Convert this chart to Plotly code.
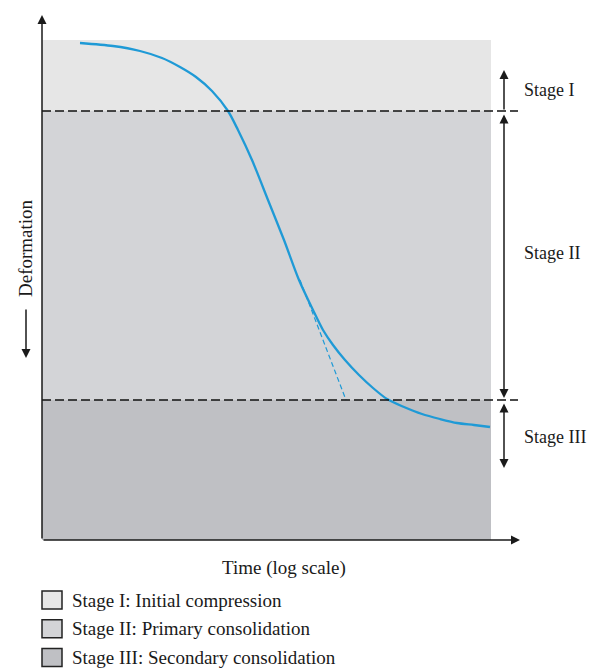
import plotly.graph_objects as go

# consolidation curve (x: log time units, y: deformation units, down = more)
log_time = [38, 71, 98, 120, 138, 154, 170, 186, 196, 210, 226, 242, 257, 271,
            281, 291, 303, 317, 331, 345, 362, 380, 398, 415, 432, 448]
deformation = [3, 6, 11, 18, 27, 37, 51, 71, 90, 120, 160, 200, 240, 270,
               290, 305, 320, 335, 348, 359, 367, 374, 379, 383, 385, 387]

# tangent at the inflection point
tangent_time = [258, 304]
tangent_def = [240, 360]

# stage limits on the deformation axis
stage_edges = [0, 71, 360, 500]
stage_names = ["Stage I", "Stage II", "Stage III"]
stage_fill = ["#e6e6e6", "#d3d4d7", "#bfc0c4"]
legend_text = ["Stage I: Initial compression",
               "Stage II: Primary consolidation",
               "Stage III: Secondary consolidation"]

time_end = 449
serif = "Liberation Serif"
ink = "#1a1a1a"
blue = "#1f9ad6"

fig = go.Figure()

fig.add_trace(go.Scatter(x=log_time, y=deformation, mode="lines",
                         line=dict(color=blue, width=2.3, shape="spline", smoothing=0.8),
                         hoverinfo="skip", showlegend=False))
fig.add_trace(go.Scatter(x=tangent_time, y=tangent_def, mode="lines",
                         line=dict(color=blue, width=1.2, dash="5px,3px"),
                         hoverinfo="skip", showlegend=False))

# stage bands
for i in range(3):
    fig.add_shape(type="rect", x0=0, x1=time_end, y0=stage_edges[i], y1=stage_edges[i + 1],
                  fillcolor=stage_fill[i], line_width=0, layer="below")

# dashed stage boundaries
for edge in stage_edges[1:3]:
    fig.add_shape(type="line", x0=0, x1=476, y0=edge, y1=edge,
                  line=dict(color="#111111", width=1.5, dash="9px,4px"))

def arrow(x0, y0, x1, y1, both=False, w=1.5):
    fig.add_annotation(x=x1, y=y1, ax=x0, ay=y0, xref="x", yref="y", axref="x", ayref="y",
                       text="", showarrow=True, arrowhead=2, arrowsize=1.2, arrowwidth=w,
                       arrowcolor=ink, arrowside="end+start" if both else "end",
                       startarrowhead=2, startarrowsize=1.2)

# axes
arrow(0, 500, 0, -25)
arrow(0, 500, 478, 500)

# stage arrows on the right
arrow(462, stage_edges[1], 462, 30)
arrow(462, stage_edges[1] + 2, 462, stage_edges[2] - 2, both=True)
arrow(462, stage_edges[2] + 2, 462, 428, both=True)

label_y = [50, 213, 397]
for name, ly in zip(stage_names, label_y):
    fig.add_annotation(x=480, y=ly, text=name, showarrow=False, xanchor="left",
                       font=dict(family=serif, size=18, color=ink))

# axis titles
fig.add_annotation(x=-17, y=208, text="Deformation", showarrow=False, textangle=-90,
                   font=dict(family=serif, size=19, color=ink))
arrow(-16, 268, -16, 318)
fig.add_annotation(x=242, y=528, text="Time (log scale)", showarrow=False,
                   font=dict(family=serif, size=19, color=ink))

# legend
for i, (txt, col) in enumerate(zip(legend_text, stage_fill)):
    yc = 560 + 28.75 * i
    fig.add_shape(type="rect", x0=0, x1=20, y0=yc - 9, y1=yc + 9,
                  fillcolor=col, line=dict(color="#222222", width=1.5))
    fig.add_annotation(x=28, y=yc, text=txt, showarrow=False, xanchor="left",
                       font=dict(family=serif, size=19, color=ink))

fig.update_xaxes(range=[-42, 547], visible=False, fixedrange=True)
fig.update_yaxes(range=[632, -40], visible=False, fixedrange=True)
fig.update_layout(width=589, height=672, margin=dict(l=0, r=0, t=0, b=0),
                  paper_bgcolor="white", plot_bgcolor="white", showlegend=False)

# drop the default page margin so the figure fills the window exactly
fig.write_html("out.html", config={"displayModeBar": False},
               post_script="document.body.style.margin='0';document.body.style.overflow='hidden';")
